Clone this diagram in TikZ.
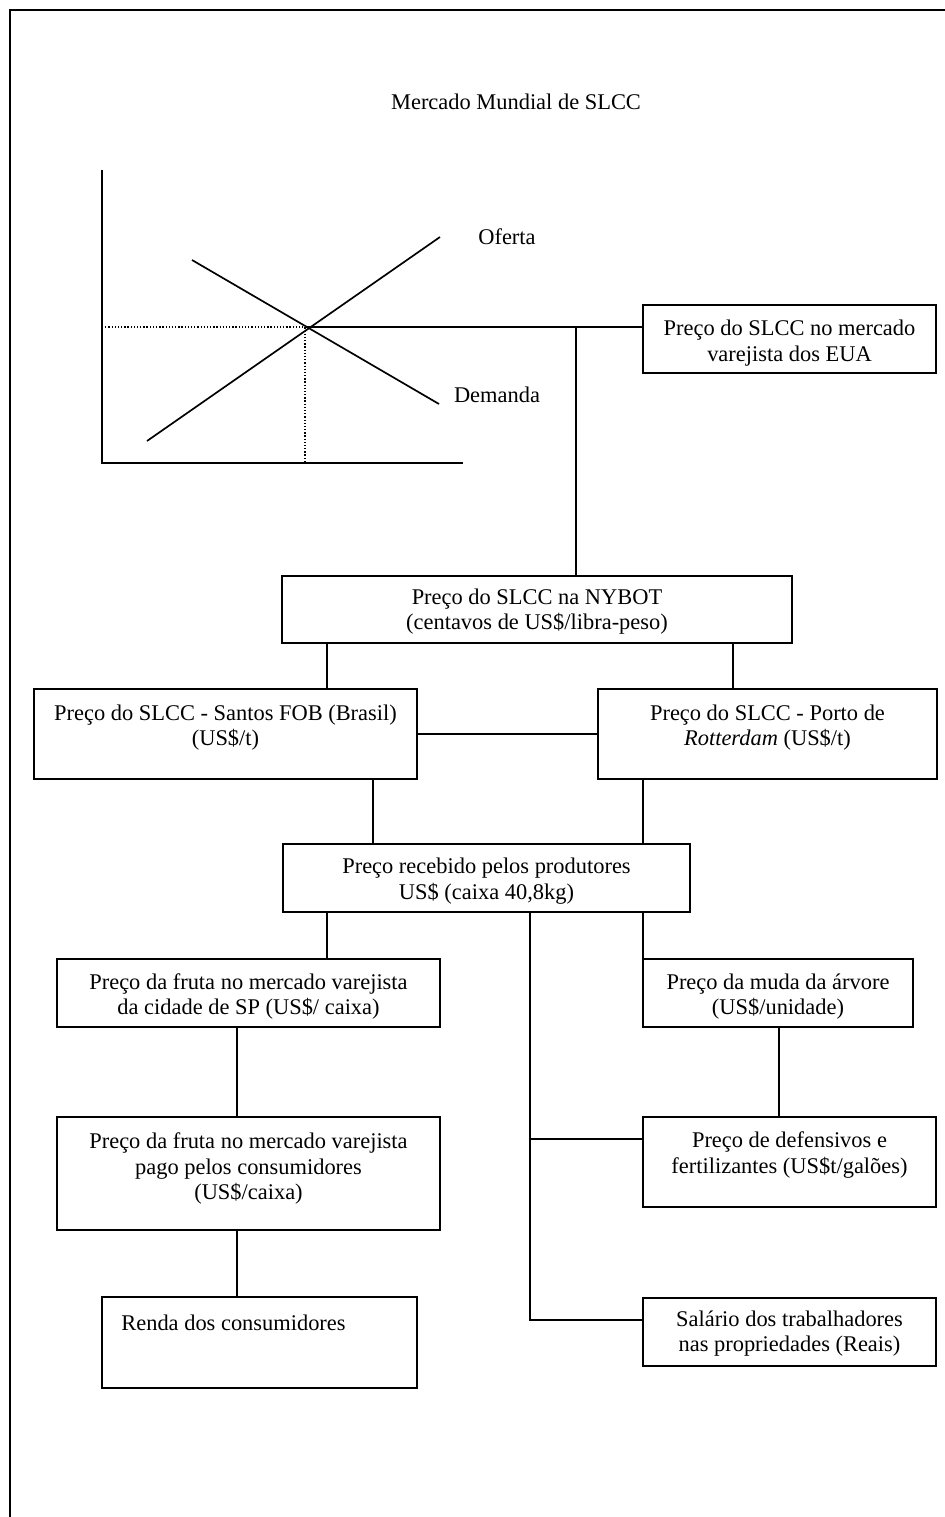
\documentclass[tikz,border=0pt]{standalone}
\usepackage{fontspec}
\setmainfont{Liberation Serif}
\usetikzlibrary{fit}
\begin{document}
\begin{tikzpicture}[x=0.535pt,y=-0.535pt,
  box/.style={draw, line width=1pt, inner sep=0pt},
  conn/.style={line width=0.7pt},
  lbl/.style={align=center, inner sep=0pt, font=\fontsize{12}{13.8}\selectfont},
  axis/.style={line width=1pt},
  curve/.style={line width=0.9pt},
  guide/.style={line width=0.7pt, densely dotted}]
\useasboundingbox (0,0) rectangle (945,1517);

% page frame
\draw[line width=0.8pt] (945,10) -- (10,10) -- (10,1517);

% title
\node[lbl] (title) at (516,102) {Mercado Mundial de SLCC};

% supply and demand chart
\draw[axis] (102,170) -- (102,463) -- (463,463);
\coordinate (eq) at (305,327);
\draw[guide] (102,327) -- (eq) -- (305,463);
\draw[curve] (147,441) -- (440,237);
\draw[curve] (192,260) -- (439,404);
\node[lbl] (oferta) at (507,237) {Oferta};
\node[lbl] (demanda) at (497,395) {Demanda};

% boxes
\node[box, fit={(643,305) (936,373)}] (eua) {};
\node[lbl] (eua-t) at (789.5,343) {Preço do SLCC no mercado\\varejista dos EUA};

\node[box, fit={(282,576) (792,643)}] (nybot) {};
\node[lbl] (nybot-t) at (537,611.5) {Preço do SLCC na NYBOT\\(centavos de US\$/libra-peso)};

\node[box, fit={(34,689) (417,779)}] (santos) {};
\node[lbl] (santos-t) at (225.5,727.5) {Preço do SLCC - Santos FOB (Brasil)\\(US\$/t)};

\node[box, fit={(598,689) (937,779)}] (rott) {};
\node[lbl] (rott-t) at (767.5,727.5) {Preço do SLCC - Porto de\\\textit{Rotterdam} (US\$/t)};

\node[box, fit={(283,844) (690,912)}] (prod) {};
\node[lbl] (prod-t) at (486.5,881.5) {Preço recebido pelos produtores\\US\$ (caixa 40,8kg)};

\node[box, fit={(57,959) (440,1027)}] (fruta) {};
\node[lbl] (fruta-t) at (248.5,996.5) {Preço da fruta no mercado varejista\\da cidade de SP (US\$/ caixa)};

\node[box, fit={(643,959) (913,1027)}] (muda) {};
\node[lbl] (muda-t) at (778,996.5) {Preço da muda da árvore\\(US\$/unidade)};

\node[box, fit={(57,1117) (440,1230)}] (pago) {};
\node[lbl] (pago-t) at (248.5,1168.5) {Preço da fruta no mercado varejista\\pago pelos consumidores\\(US\$/caixa)};

\node[box, fit={(643,1117) (936,1207)}] (def) {};
\node[lbl] (def-t) at (789.5,1155) {Preço de defensivos e\\fertilizantes (US\$t/galões)};

\node[box, fit={(102,1297) (417,1388)}] (renda) {};
\node[lbl, anchor=west] (renda-t) at (121,1323) {Renda dos consumidores};

\node[box, fit={(643,1298) (936,1366)}] (sal) {};
\node[lbl] (sal-t) at (789.5,1333.5) {Salário dos trabalhadores\\nas propriedades (Reais)};

% connector columns
\coordinate (cA) at (327,0);
\coordinate (cB) at (733,0);
\coordinate (cC) at (373,0);
\coordinate (cD) at (643,0);
\coordinate (cF) at (237,0);
\coordinate (cG) at (779,0);
\coordinate (cH) at (576,327);
\coordinate (bD) at (530,1139);
\coordinate (bS) at (530,1320);

% connectors
\draw[conn] (eq) -- (eq -| eua.west);
\draw[conn] (cH) -- (cH |- nybot.north);
\draw[conn] (nybot.south -| cA) -- (santos.north -| cA);
\draw[conn] (nybot.south -| cB) -- (rott.north -| cB);
\draw[conn] (santos.east) -- (santos.east -| rott.west);
\draw[conn] (santos.south -| cC) -- (prod.north -| cC);
\draw[conn] (rott.south -| cD) -- (prod.north -| cD);
\draw[conn] (prod.south -| cA) -- (fruta.north -| cA);
\draw[conn] (prod.south -| cD) -- (muda.north -| cD);
\draw[conn] (prod.south -| bD) -- (bS) -- (bS -| sal.west);
\draw[conn] (bD) -- (bD -| def.west);
\draw[conn] (fruta.south -| cF) -- (pago.north -| cF);
\draw[conn] (pago.south -| cF) -- (renda.north -| cF);
\draw[conn] (muda.south -| cG) -- (def.north -| cG);
\end{tikzpicture}
\end{document}
